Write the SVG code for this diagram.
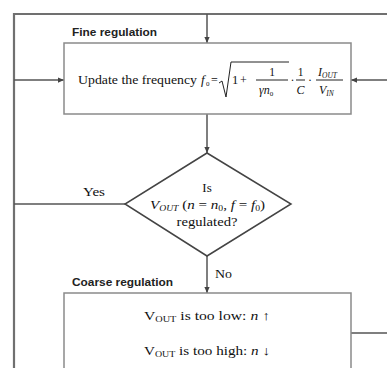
<svg xmlns="http://www.w3.org/2000/svg" width="387" height="368" viewBox="0 0 387 368">
<style>
.box{fill:#fff;stroke:#8a8a8a;stroke-width:1.5}
.dia{fill:#fff;stroke:#444;stroke-width:1.5}
.ln{fill:none;stroke:#555;stroke-width:1.5}
.frame{fill:none;stroke:#707070;stroke-width:2.2}
.ser{font-family:"Liberation Serif","Times New Roman",serif;fill:#111}
.it{font-style:italic}
.hd{font-family:"Liberation Sans",Arial,sans-serif;font-weight:bold;font-size:10px;fill:#222}
</style>
<defs>
<marker id="ah" viewBox="0 0 8 8" refX="8" refY="4" markerWidth="6" markerHeight="6" orient="auto" markerUnits="userSpaceOnUse">
<path d="M0,0.5 L8,4 L0,7.5 Z" fill="#444"/>
</marker>
</defs>
<g id="connectors">
<path class="frame" d="M14,368 V14 H387"/>
<path class="ln" d="M207,14 V43" marker-end="url(#ah)"/>
<path class="ln" d="M14,80 H64" marker-end="url(#ah)"/>
<path class="ln" d="M387,80 H351" marker-end="url(#ah)"/>
<path class="ln" d="M207,114 V153" marker-end="url(#ah)"/>
<path class="ln" d="M125,204 H14"/>
<path class="ln" d="M207,256 V293" marker-end="url(#ah)"/>
<path class="ln" d="M351,333 H387"/>
<text class="ser" x="83" y="196" font-size="13" textLength="22" lengthAdjust="spacingAndGlyphs">Yes</text>
<text class="ser" x="215" y="278" font-size="13" textLength="17" lengthAdjust="spacingAndGlyphs">No</text>
</g>
<g id="fine">
<text class="hd" x="72" y="36" textLength="85" lengthAdjust="spacingAndGlyphs">Fine regulation</text>
<rect class="box" x="64" y="43" width="287" height="71"/>
<text class="ser" x="78" y="84" font-size="13" textLength="119" lengthAdjust="spacingAndGlyphs">Update the frequency</text>
<text class="ser it" x="201" y="84" font-size="13">f</text>
<text class="ser" x="206" y="86" font-size="7">0</text>
<text class="ser" x="211" y="84" font-size="12">=</text>
<path d="M219,83 L222,81 L226,97 L231,62 H289" fill="none" stroke="#222" stroke-width="1"/>
<text class="ser" x="232" y="84" font-size="12.5">1</text>
<text class="ser" x="240" y="84" font-size="12">+</text>
<text class="ser" x="272" y="76" font-size="11.5" text-anchor="middle">1</text>
<path d="M256,80 H288 M296,80 H305 M316,80 H343" stroke="#222" stroke-width="1"/>
<text class="ser it" x="259" y="94" font-size="12">γn<tspan font-size="7" dy="2" font-style="normal">0</tspan></text>
<text class="ser" x="290.5" y="84" font-size="12">·</text>
<text class="ser" x="300.5" y="76" font-size="11.5" text-anchor="middle">1</text>
<text class="ser it" x="300.5" y="94" font-size="12" text-anchor="middle">C</text>
<text class="ser" x="308" y="84" font-size="12">·</text>
<text class="ser it" x="318" y="76" font-size="12">I<tspan font-size="7.5" dy="2">OUT</tspan></text>
<text class="ser it" x="319" y="94" font-size="12">V<tspan font-size="7.5" dy="2">IN</tspan></text>
</g>
<g id="decision">
<polygon class="dia" points="207,153 291,204 207,256 125,204"/>
<text class="ser" x="207" y="192" font-size="13" text-anchor="middle">Is</text>
<text class="ser" x="150" y="209" font-size="12.5" textLength="115" lengthAdjust="spacingAndGlyphs"><tspan class="it">V</tspan><tspan class="it" font-size="8" dy="2">OUT</tspan><tspan dy="-2"> (</tspan><tspan class="it">n</tspan> = <tspan class="it">n</tspan><tspan font-size="8" dy="2">0</tspan><tspan dy="-2">, </tspan><tspan class="it">f</tspan> = <tspan class="it">f</tspan><tspan font-size="8" dy="2">0</tspan><tspan dy="-2">)</tspan></text>
<text class="ser" x="207" y="226" font-size="13" text-anchor="middle" textLength="61" lengthAdjust="spacingAndGlyphs">regulated?</text>
</g>
<g id="coarse">
<text class="hd" x="72" y="286" textLength="101" lengthAdjust="spacingAndGlyphs">Coarse regulation</text>
<rect class="box" x="64" y="293" width="287" height="90"/>
<text class="ser" x="144" y="320" font-size="13" textLength="126" lengthAdjust="spacingAndGlyphs">V<tspan font-size="8.5" dy="2">OUT</tspan><tspan dy="-2"> is too low:   </tspan><tspan class="it">n</tspan> ↑</text>
<text class="ser" x="144" y="355" font-size="13" textLength="126" lengthAdjust="spacingAndGlyphs">V<tspan font-size="8.5" dy="2">OUT</tspan><tspan dy="-2"> is too high:  </tspan><tspan class="it">n</tspan> ↓</text>
</g>
</svg>
